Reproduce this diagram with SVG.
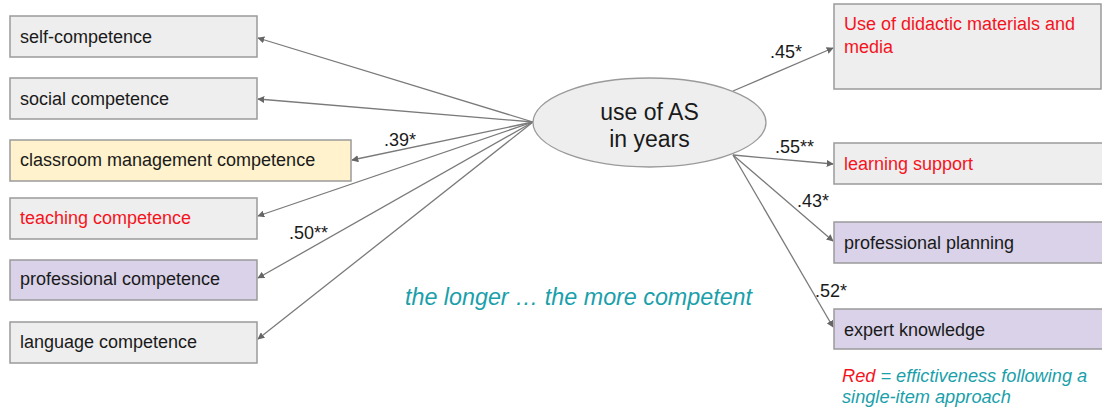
<svg xmlns="http://www.w3.org/2000/svg" width="1102" height="411" viewBox="0 0 1102 411">
  <style>
    .box { stroke: #9a9a9a; stroke-width: 1.5; }
    .grey { fill: #eeeeee; }
    .yellow { fill: #fff2cc; }
    .purple { fill: #d9d2e9; }
    .lbl { font-family: "Liberation Sans", Arial, sans-serif; font-size: 18px; fill: #1a1a1a; }
    .red { fill: #f5141e; }
    .coef { font-family: "Liberation Sans", Arial, sans-serif; font-size: 18px; fill: #1a1a1a; }
    .teal { font-family: "Liberation Sans", Arial, sans-serif; font-style: italic; fill: #1aa0ab; }
    .edge { stroke: #7a7a7a; stroke-width: 1.3; fill: none; marker-end: url(#arrow); }
  </style>
  <defs>
    <marker id="arrow" viewBox="0 0 10 10" refX="9" refY="5" markerWidth="7" markerHeight="7" orient="auto" markerUnits="userSpaceOnUse">
      <path d="M0,0 L10,5 L0,10 z" fill="#666666"/>
    </marker>
  </defs>
  <rect width="1102" height="411" fill="#ffffff"/>

  <!-- connectors -->
  <g id="connectors">
    <line class="edge" x1="533" y1="122" x2="258" y2="38"/>
    <line class="edge" x1="533" y1="122" x2="258" y2="99"/>
    <line class="edge" x1="533" y1="122" x2="352" y2="160"/>
    <line class="edge" x1="533" y1="122" x2="258" y2="216"/>
    <line class="edge" x1="533" y1="122" x2="258" y2="278"/>
    <line class="edge" x1="533" y1="122" x2="258" y2="339"/>
    <line class="edge" x1="733" y1="91" x2="833" y2="48"/>
    <line class="edge" x1="733" y1="155" x2="833" y2="164"/>
    <line class="edge" x1="733" y1="155" x2="833" y2="241"/>
    <line class="edge" x1="733" y1="155" x2="833" y2="327"/>
    <text class="coef" x="384" y="146">.39*</text>
    <text class="coef" x="289" y="239">.50**</text>
    <text class="coef" x="770" y="58">.45*</text>
    <text class="coef" x="775" y="153">.55**</text>
    <text class="coef" x="797" y="207">.43*</text>
    <text class="coef" x="815" y="297">.52*</text>
  </g>

  <!-- central construct -->
  <g id="use-of-as">
    <ellipse cx="649.5" cy="122.5" rx="116.5" ry="44.5" fill="#eeeeee" stroke="#9a9a9a" stroke-width="1.3"/>
    <text class="lbl" x="649.5" y="120" text-anchor="middle" style="font-size:23px">use of AS</text>
    <text class="lbl" x="649.5" y="147" text-anchor="middle" style="font-size:23px">in years</text>
  </g>

  <!-- competence outcomes -->
  <g id="self-competence">
    <rect class="box grey" x="10" y="16" width="247" height="41"/>
    <text class="lbl" x="20" y="43">self-competence</text>
  </g>
  <g id="social-competence">
    <rect class="box grey" x="10" y="78" width="247" height="41"/>
    <text class="lbl" x="20" y="105">social competence</text>
  </g>
  <g id="classroom-management-competence">
    <rect class="box yellow" x="10" y="140" width="341" height="41"/>
    <text class="lbl" x="20" y="166">classroom management competence</text>
  </g>
  <g id="teaching-competence">
    <rect class="box grey" x="10" y="198" width="247" height="41"/>
    <text class="lbl red" x="20" y="224">teaching competence</text>
  </g>
  <g id="professional-competence">
    <rect class="box purple" x="10" y="260" width="247" height="40"/>
    <text class="lbl" x="20" y="285">professional competence</text>
  </g>
  <g id="language-competence">
    <rect class="box grey" x="10" y="322" width="247" height="41"/>
    <text class="lbl" x="20" y="348">language competence</text>
  </g>

  <!-- practice outcomes -->
  <g id="didactic-materials">
    <rect class="box grey" x="834" y="4" width="267" height="85"/>
    <text class="lbl red" x="844" y="30">Use of didactic materials and</text>
    <text class="lbl red" x="844" y="53">media</text>
  </g>
  <g id="learning-support">
    <rect class="box grey" x="834" y="143" width="275" height="41"/>
    <text class="lbl red" x="844" y="170">learning support</text>
  </g>
  <g id="professional-planning">
    <rect class="box purple" x="834" y="222" width="275" height="41"/>
    <text class="lbl" x="844" y="249">professional planning</text>
  </g>
  <g id="expert-knowledge">
    <rect class="box purple" x="834" y="309" width="275" height="40"/>
    <text class="lbl" x="844" y="336">expert knowledge</text>
  </g>

  <!-- annotations -->
  <text class="teal" x="405" y="305" style="font-size:23.3px">the longer … the more competent</text>
  <text class="teal" x="842" y="382" style="font-size:18.2px"><tspan class="red">Red</tspan> = effictiveness following a</text>
  <text class="teal" x="842" y="403" style="font-size:18.2px">single-item approach</text>
</svg>
